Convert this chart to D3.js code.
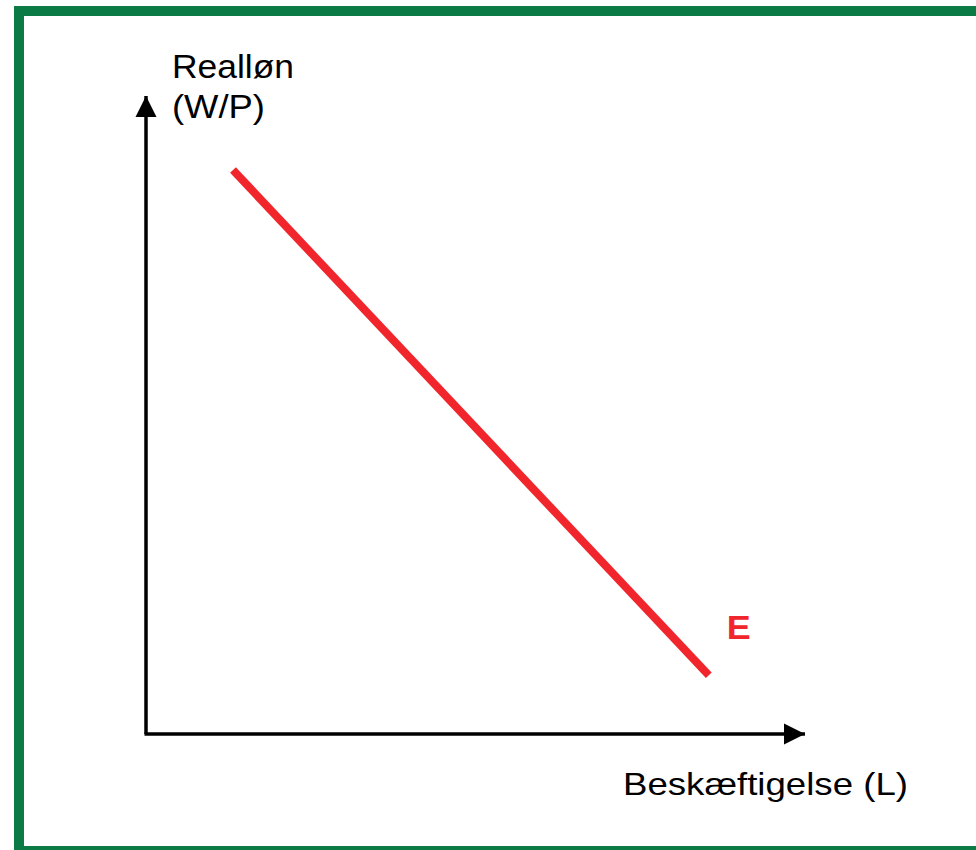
<!DOCTYPE html>
<meta charset="utf-8">
<style>
body{
  margin: 0;
  background: #fff;
}
text{
  font-family: "Liberation Sans", Arial, sans-serif;
}
</style>
<body>
<div id='chart'></div>
<script src="https://cdn.jsdelivr.net/npm/d3@7"></script>
<script>

// labour demand curve E (employment L, real wage W/P), arbitrary units 0-10
var curveName = 'E'
var employment = [1.32, 8.54]
var realWage = [8.84, 0.92]

var yLabel = ['Realløn', '(W/P)']
var xLabel = 'Beskæftigelse (L)'

var width = 976,
    height = 850

var svg = d3.select('#chart')
  .append('svg')
    .attr('width', width)
    .attr('height', height)

// green frame
svg.append('rect')
    .attr('x', 19)
    .attr('y', 11)
    .attr('width', 980)
    .attr('height', 840)
    .attr('fill', 'none')
    .attr('stroke', '#0b7a45')
    .attr('stroke-width', 10)

var x = d3.scaleLinear().domain([0, 10]).range([146, 805])
var y = d3.scaleLinear().domain([0, 10]).range([734, 96])

var defs = svg.append('defs')
defs.append('marker')
    .attr('id', 'arrow')
    .attr('viewBox', '0 0 10 10')
    .attr('refX', 10)
    .attr('refY', 5)
    .attr('markerUnits', 'userSpaceOnUse')
    .attr('markerWidth', 21)
    .attr('markerHeight', 22)
    .attr('orient', 'auto')
  .append('path')
    .attr('d', 'M0,0 L10,5 L0,10 Z')
    .attr('fill', '#000')

// axes: plain lines with arrow heads, no ticks
svg.append('line')
    .attr('x1', x(0)).attr('y1', y(0))
    .attr('x2', x(0)).attr('y2', y(10))
    .attr('stroke', '#000')
    .attr('stroke-width', 3.5)
    .attr('marker-end', 'url(#arrow)')

svg.append('line')
    .attr('x1', x(0) - 1.5).attr('y1', y(0))
    .attr('x2', x(10)).attr('y2', y(0))
    .attr('stroke', '#000')
    .attr('stroke-width', 3.5)
    .attr('marker-end', 'url(#arrow)')

var pts = employment.map(function(d, i){ return [d, realWage[i]] })

var line = d3.line()
    .x(function(d){ return x(d[0]) })
    .y(function(d){ return y(d[1]) })

svg.append('path')
    .datum(pts)
    .attr('d', line)
    .attr('fill', 'none')
    .attr('stroke', '#f1262d')
    .attr('stroke-width', 8)

svg.append('text')
    .attr('x', x(employment[1]) + 18)
    .attr('y', y(realWage[1]) - 36)
    .attr('fill', '#f1262d')
    .style('font-weight', 'bold')
    .style('font-size', '34px')
    .attr('textLength', 24)
    .attr('lengthAdjust', 'spacingAndGlyphs')
    .text(curveName)

svg.append('text')
    .attr('x', 172)
    .attr('y', 78)
    .style('font-size', '33px')
    .attr('textLength', 122)
    .attr('lengthAdjust', 'spacingAndGlyphs')
    .text(yLabel[0])

svg.append('text')
    .attr('x', 172)
    .attr('y', 118)
    .style('font-size', '33px')
    .attr('textLength', 93)
    .attr('lengthAdjust', 'spacingAndGlyphs')
    .text(yLabel[1])

svg.append('text')
    .attr('x', 623)
    .attr('y', 795)
    .style('font-size', '32px')
    .attr('textLength', 285)
    .attr('lengthAdjust', 'spacingAndGlyphs')
    .text(xLabel)

</script>
</body>
